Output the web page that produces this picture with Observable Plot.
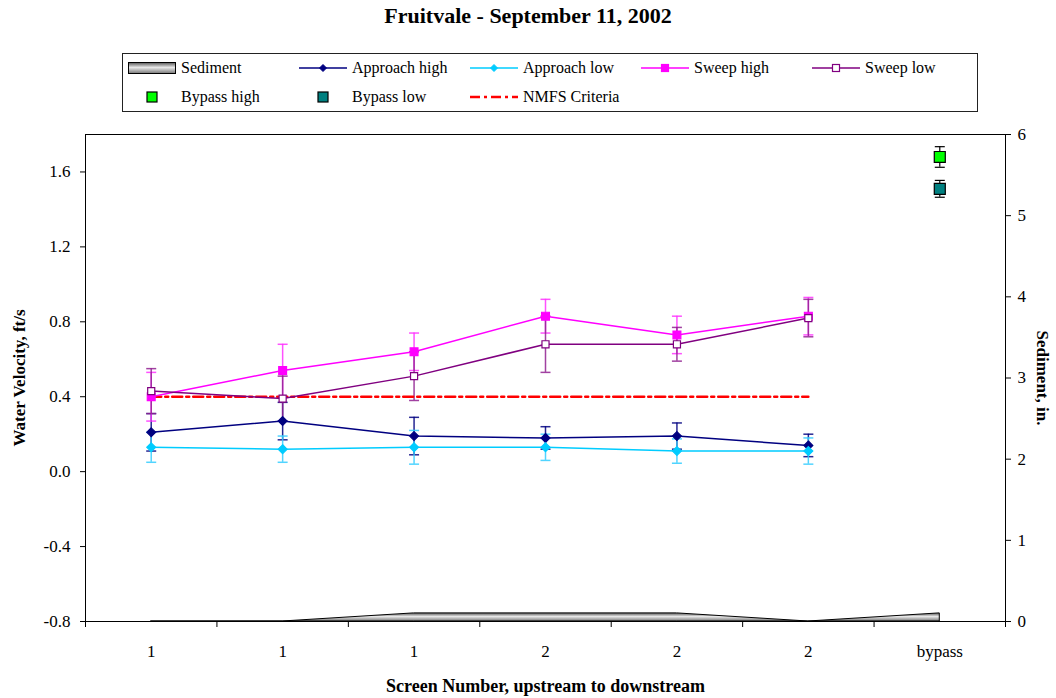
<!DOCTYPE html>
<html>
<head>
<meta charset="utf-8">
<script src="https://cdn.jsdelivr.net/npm/d3@7"></script>
<script src="https://cdn.jsdelivr.net/npm/@observablehq/plot@0.6"></script>
<style>
  body { margin: 0; background: #fff; font-family: "Liberation Serif", "Times New Roman", serif; }
  #wrap { position: relative; width: 1056px; height: 698px; overflow: hidden; }
  #title { position: absolute; top: 3px; left: 0; width: 1056px; text-align: center; font-weight: bold; font-size: 22px; color: #000; }
  #legend { position: absolute; left: 122px; top: 53px; width: 856px; height: 59px; border: 1px solid #222; box-sizing: border-box; }
  .item { position: absolute; height: 18px; font-size: 16px; line-height: 18px; white-space: nowrap; color: #000; }
  .item svg { position: absolute; left: 0; top: 1px; }
  .item span { position: absolute; left: 53px; top: 0; }
  #chart { position: absolute; left: 0; top: 120px; }
</style>
</head>
<body>
<div id="wrap">
  <div id="title">Fruitvale - September 11, 2002</div>
  <div id="legend"></div>
  <div id="chart"></div>
</div>
<script>
// ---- data ----
const categories = ["1", "1", "1", "2", "2", "2", "bypass"];
const positions = [1, 2, 3, 4, 5, 6, 7];
const sediment = [0, 0, 0.1, 0.1, 0.1, 0, 0.1];

const approachHigh    = [0.21, 0.27, 0.19, 0.18, 0.19, 0.14];
const approachHighErr = [0.10, 0.10, 0.10, 0.06, 0.07, 0.06];
const approachLow     = [0.13, 0.12, 0.13, 0.13, 0.11, 0.11];
const approachLowErr  = [0.08, 0.07, 0.09, 0.07, 0.065, 0.07];
const sweepHigh       = [0.40, 0.54, 0.64, 0.83, 0.73, 0.83];
const sweepHighErr    = [0.13, 0.14, 0.10, 0.09, 0.10, 0.10];
const sweepLow        = [0.43, 0.39, 0.51, 0.68, 0.68, 0.82];
const sweepLowErr     = [0.12, 0.12, 0.13, 0.15, 0.09, 0.10];
const bypassHigh = [1.68];
const bypassHighErr = [0.055];
const bypassLow = [1.51];
const bypassLowErr = [0.045];
const nmfsCriteria = [0.4, 0.4, 0.4, 0.4, 0.4, 0.4];

const velTicks = [-0.8, -0.4, 0.0, 0.4, 0.8, 1.2, 1.6];
const sedTicks = [0, 1, 2, 3, 4, 5, 6];
const velDomain = [-0.8, 1.8];
const sedDomain = [0, 6];

// ---- helpers ----
const toVel = s => velDomain[0] + (s - sedDomain[0]) * (velDomain[1] - velDomain[0]) / (sedDomain[1] - sedDomain[0]);
const fromVel = v => sedDomain[0] + (v - velDomain[0]) * (sedDomain[1] - sedDomain[0]) / (velDomain[1] - velDomain[0]);

const seriesDefs = [
  {name: "Approach high", values: approachHigh, err: approachHighErr, color: "#000080", symbol: "diamond2", r: 4, fill: "#000080", errColor: "#000080"},
  {name: "Approach low",  values: approachLow,  err: approachLowErr,  color: "#00CCFF", symbol: "diamond2", r: 4, fill: "#00CCFF", errColor: "#33CCFF"},
  {name: "Sweep high",    values: sweepHigh,    err: sweepHighErr,    color: "#FF00FF", symbol: "square2", r: 5, fill: "#FF00FF", errColor: "#FF33FF"},
  {name: "Sweep low",     values: sweepLow,     err: sweepLowErr,     color: "#800080", symbol: "square2", r: 4.5, fill: "#FFFFFF", errColor: "#902090"}
];
const rowsOf = (s, offset = 0) => s.values.map((v, i) => ({series: s.name, x: positions[i + offset], y: v, lo: v - s.err[i], hi: v + s.err[i]}));

const bypassDefs = [
  {name: "Bypass high", values: bypassHigh, err: bypassHighErr, fill: "#00FF00"},
  {name: "Bypass low",  values: bypassLow,  err: bypassLowErr,  fill: "#008080"}
];

const sedRows = sediment.map((s, i) => ({x: positions[i], sed: s}));
const nmfsRows = nmfsCriteria.map((v, i) => ({x: positions[i], y: v}));

const cap = {draw(ctx) { ctx.moveTo(-5, 0); ctx.lineTo(5, 0); }};

const marks = [];
// sediment area
marks.push(Plot.areaY(sedRows, {x: "x", y1: velDomain[0], y2: d => toVel(d.sed), fill: "url(#sedGrad)", stroke: "#000", strokeWidth: 1}));
// error bars
for (const s of seriesDefs) {
  const rows = rowsOf(s);
  marks.push(Plot.ruleX(rows, {x: "x", y1: "lo", y2: "hi", stroke: s.errColor, strokeWidth: 1.5, strokeOpacity: 0.85}));
  marks.push(Plot.dot(rows, {x: "x", y: "lo", symbol: cap, stroke: s.errColor, strokeWidth: 1.5, strokeOpacity: 0.85}));
  marks.push(Plot.dot(rows, {x: "x", y: "hi", symbol: cap, stroke: s.errColor, strokeWidth: 1.5, strokeOpacity: 0.85}));
}
for (const b of bypassDefs) {
  const rows = rowsOf(b, 6);
  marks.push(Plot.ruleX(rows, {x: "x", y1: "lo", y2: "hi", stroke: "#000", strokeWidth: 1.2}));
  marks.push(Plot.dot(rows, {x: "x", y: "lo", symbol: cap, stroke: "#000", strokeWidth: 1.2}));
  marks.push(Plot.dot(rows, {x: "x", y: "hi", symbol: cap, stroke: "#000", strokeWidth: 1.2}));
}
// NMFS criteria
marks.push(Plot.line(nmfsRows, {x: "x", y: "y", stroke: "#FF0000", strokeWidth: 2.5, strokeDasharray: "10,4,3,4"}));
// series lines and markers
for (const s of seriesDefs) {
  const rows = rowsOf(s);
  marks.push(Plot.line(rows, {x: "x", y: "y", stroke: s.color, strokeWidth: 1.5}));
  marks.push(Plot.dot(rows, {x: "x", y: "y", symbol: s.symbol, r: s.r, fill: s.fill, stroke: s.color, strokeWidth: 1.2}));
}
for (const b of bypassDefs) {
  marks.push(Plot.dot(rowsOf(b, 6), {x: "x", y: "y", symbol: "square2", r: 7, fill: b.fill, stroke: "#000", strokeWidth: 1.2}));
}
// frame and axes
marks.push(Plot.frame({stroke: "#000", strokeWidth: 1}));
marks.push(Plot.axisX({ticks: [0.5, 1.5, 2.5, 3.5, 4.5, 5.5, 6.5, 7.5], tickFormat: () => "", tickSize: 6, label: null}));
marks.push(Plot.axisX({ticks: positions, tickSize: 0, tickPadding: 23, tickFormat: i => categories[i - 1], label: null, fontSize: 17}));
marks.push(Plot.axisY({anchor: "left", ticks: velTicks, tickFormat: v => v.toFixed(1), tickSize: 5, tickPadding: 10, label: null, fontSize: 17}));
marks.push(Plot.axisY({anchor: "right", ticks: sedTicks.map(toVel), tickFormat: v => String(Math.round(fromVel(v))), tickSize: 5, tickPadding: 7, label: null, fontSize: 17}));
// axis titles
marks.push(Plot.text(["Water Velocity, ft/s"], {frameAnchor: "left", dx: -66, rotate: -90, textAnchor: "middle", fontWeight: "bold", fontSize: 17, lineAnchor: "middle"}));
marks.push(Plot.text(["Sediment, in."], {frameAnchor: "right", dx: 37, rotate: 90, textAnchor: "middle", fontWeight: "bold", fontSize: 17, lineAnchor: "middle"}));
marks.push(Plot.text(["Screen Number, upstream to downstream"], {frameAnchor: "bottom", dy: 65, fontWeight: "bold", fontSize: 18, lineAnchor: "middle"}));

const svg = Plot.plot({
  width: 1056,
  height: 578,
  marginTop: 14,
  marginBottom: 77,
  marginLeft: 85,
  marginRight: 51,
  x: {type: "linear", domain: [0.5, 7.5], label: null},
  y: {type: "linear", domain: velDomain, label: null},
  style: {fontFamily: "Liberation Serif, Times New Roman, serif", fontSize: "17px", color: "#000", background: "#fff"},
  marks
});

const defs = d3.select(svg).insert("defs", ":first-child");
const grad = defs.append("linearGradient").attr("id", "sedGrad").attr("x1", 0).attr("y1", 0).attr("x2", 0).attr("y2", 1);
grad.append("stop").attr("offset", "0%").attr("stop-color", "#555");
grad.append("stop").attr("offset", "45%").attr("stop-color", "#e8e8e8");
grad.append("stop").attr("offset", "100%").attr("stop-color", "#777");
document.getElementById("chart").appendChild(svg);

// ---- legend ----
const legendItems = [
  {name: "Sediment", type: "area"},
  {name: "Approach high", type: "line", color: "#000080", marker: "diamond", fill: "#000080"},
  {name: "Approach low", type: "line", color: "#00CCFF", marker: "diamond", fill: "#00CCFF"},
  {name: "Sweep high", type: "line", color: "#FF00FF", marker: "square", fill: "#FF00FF"},
  {name: "Sweep low", type: "line", color: "#800080", marker: "square", fill: "#FFFFFF"},
  {name: "Bypass high", type: "box", fill: "#00FF00"},
  {name: "Bypass low", type: "box", fill: "#008080"},
  {name: "NMFS Criteria", type: "dash", color: "#FF0000"}
];
function swatch(it) {
  let s = '<svg width="48" height="16" viewBox="0 0 48 16">';
  if (it.type === "area") {
    s += '<defs><linearGradient id="lg" x1="0" y1="0" x2="0" y2="1"><stop offset="0%" stop-color="#555"/><stop offset="45%" stop-color="#e8e8e8"/><stop offset="100%" stop-color="#777"/></linearGradient></defs>';
    s += '<rect x="0.5" y="2.5" width="47" height="11" fill="url(#lg)" stroke="#000"/>';
  } else if (it.type === "line") {
    s += `<line x1="0" y1="8" x2="48" y2="8" stroke="${it.color}" stroke-width="1.5"/>`;
    if (it.marker === "diamond") s += `<path d="M24,4.5L27.5,8L24,11.5L20.5,8Z" fill="${it.fill}" stroke="${it.color}"/>`;
    else s += `<rect x="20.5" y="4.5" width="7" height="7" fill="${it.fill}" stroke="${it.color}" stroke-width="1.2"/>`;
  } else if (it.type === "box") {
    s += `<rect x="19" y="3" width="10" height="10" fill="${it.fill}" stroke="#000" stroke-width="1.2"/>`;
  } else if (it.type === "dash") {
    s += `<line x1="0" y1="8" x2="48" y2="8" stroke="${it.color}" stroke-width="2.5" stroke-dasharray="10,4,3,4"/>`;
  }
  return s + '</svg>';
}
const legend = document.getElementById("legend");
legendItems.forEach((it, i) => {
  const col = i < 5 ? i : i - 5;
  const row = i < 5 ? 0 : 1;
  const div = document.createElement("div");
  div.className = "item";
  div.style.left = (5 + col * 171) + "px";
  div.style.top = (row === 0 ? 5 : 34) + "px";
  div.innerHTML = swatch(it) + `<span>${it.name}</span>`;
  legend.appendChild(div);
});
</script>
</body>
</html>
